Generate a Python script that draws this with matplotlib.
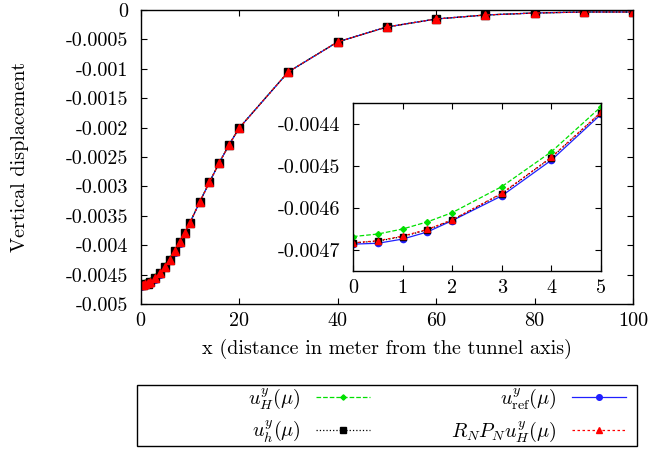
import matplotlib
matplotlib.use("Agg")
import matplotlib.pyplot as plt
from matplotlib.ticker import FuncFormatter, MultipleLocator
from matplotlib.patches import Rectangle
import numpy as np

plt.rcParams['font.family'] = ['cmr10', 'DejaVu Serif']
plt.rcParams['mathtext.fontset'] = 'cm'
plt.rcParams['axes.unicode_minus'] = False
plt.rcParams['font.size'] = 14.5

# data
x = [0, 0.5, 1, 1.5, 2, 3, 4, 5, 6, 7, 8, 9, 10, 12, 14, 16, 18, 20,
     30, 40, 50, 60, 70, 80, 90, 100]

u_H = [-0.004668, -0.004662, -0.004650, -0.004633, -0.004611, -0.004549,
       -0.004466, -0.004359, -0.004236, -0.004096, -0.003945, -0.003788,
       -0.003620, -0.003263, -0.002926, -0.002594, -0.002289, -0.002010,
       -0.001052, -0.000543, -0.000289, -0.000153, -0.000085, -0.000051,
       -0.000034, -0.000034]
u_ref = [-0.004686, -0.004684, -0.004674, -0.004657, -0.004630, -0.004571,
         -0.004486, -0.004377, -0.004252, -0.004110, -0.003957, -0.003798,
         -0.003628, -0.003270, -0.002930, -0.002597, -0.002291, -0.002012,
         -0.001054, -0.000544, -0.000289, -0.000153, -0.000085, -0.000051,
         -0.000034, -0.000034]
u_h = [-0.004683, -0.004679, -0.004668, -0.004652, -0.004629, -0.004566,
       -0.004480, -0.004373, -0.004249, -0.004107, -0.003954, -0.003796,
       -0.003626, -0.003268, -0.002929, -0.002596, -0.002290, -0.002011,
       -0.001053, -0.000544, -0.000289, -0.000153, -0.000085, -0.000051,
       -0.000034, -0.000034]
rnpn = [-0.004683, -0.004678, -0.004667, -0.004651, -0.004628, -0.004565,
        -0.004479, -0.004372, -0.004249, -0.004107, -0.003954, -0.003796,
        -0.003626, -0.003268, -0.002929, -0.002596, -0.002290, -0.002011,
        -0.001053, -0.000544, -0.000289, -0.000153, -0.000085, -0.000051,
        -0.000034, -0.000034]

labels = [r'$u^y_H(\mu)$', r'$u^y_h(\mu)$', r'$u^y_{\rm ref}(\mu)$',
          r'$R_N P_N u^y_H(\mu)$']

W, H = 653, 451
fig = plt.figure(figsize=(W / 100, H / 100), dpi=100)

gfmt = FuncFormatter(lambda v, p: '%g' % (round(v, 8) + 0.0))


def draw_series(ax, ms):
    l1, = ax.plot(x, u_H, color='#00e000', ls='--', lw=0.9, marker='D',
                  ms=ms * 0.6, label=labels[0])
    l3, = ax.plot(x, u_ref, color='#2020ff', ls='-', lw=0.9, marker='o',
                  ms=ms * 0.9, label=labels[2])
    l2, = ax.plot(x, u_h, color='black', ls=':', lw=0.9, marker='s',
                  ms=ms, label=labels[1])
    l4, = ax.plot(x, rnpn, color='red', ls=(0, (2, 2)), lw=0.9, marker='^',
                  ms=ms, label=labels[3])
    return [l1, l2, l3, l4]


def style_axes(ax):
    ax.tick_params(direction='in', top=True, right=True, length=4,
                   width=0.8)
    ax.tick_params(axis='x', pad=6)
    ax.tick_params(axis='y', pad=9)
    for s in ax.spines.values():
        s.set_linewidth(1.0)
    ax.yaxis.set_major_formatter(gfmt)
    ax.xaxis.set_major_formatter(gfmt)


# main axes
ax = fig.add_axes([140.5 / W, 1 - 304 / H, (633 - 140.5) / W, (304 - 10) / H])
handles = draw_series(ax, 6)
ax.set_xlim(0, 100)
ax.set_ylim(-0.005, 0)
ax.xaxis.set_major_locator(MultipleLocator(20))
ax.yaxis.set_major_locator(MultipleLocator(0.0005))
style_axes(ax)
ax.set_xlabel('x (distance in meter from the tunnel axis)', labelpad=6)
ax.set_ylabel('Vertical displacement', labelpad=26)

# inset
axi = fig.add_axes([353 / W, 1 - 271 / H, (601 - 353) / W, (271 - 103) / H])
draw_series(axi, 5)
axi.set_xlim(0, 5)
axi.set_ylim(-0.00475, -0.00435)
axi.xaxis.set_major_locator(MultipleLocator(1))
axi.yaxis.set_major_locator(MultipleLocator(0.0001))
style_axes(axi)

# legend, gnuplot style (text right-aligned before the sample)
leg = fig.legend(handles=handles, ncol=2, markerfirst=False, frameon=False,
                 loc='center right', bbox_to_anchor=(626 / W, 1 - 415.5 / H),
                 borderpad=0, borderaxespad=0, handlelength=2.7,
                 handletextpad=0.75, columnspacing=4.0, labelspacing=0.4,
                 markerscale=0.75, fontsize=14.5)
fig.patches.append(Rectangle((137 / W, 1 - 446 / H), 500 / W, 61 / H,
                             transform=fig.transFigure, fill=False,
                             ec='black', lw=1.0))

fig.savefig('out.png', dpi=100)
